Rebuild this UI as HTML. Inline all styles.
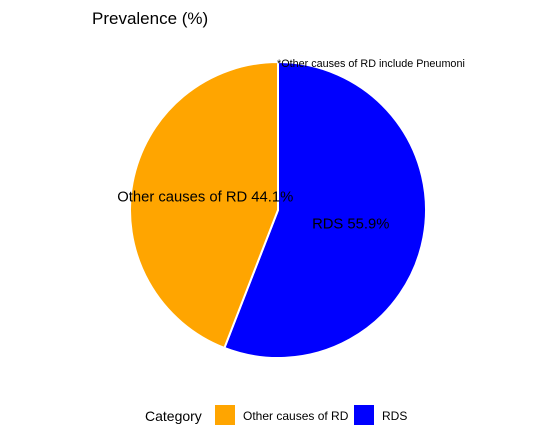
<!DOCTYPE html>
<html><head><meta charset="utf-8"><style>
body{margin:0;background:#fff;}
svg{display:block;font-family:"Liberation Sans",sans-serif;}
</style></head><body>
<svg width="554" height="427" viewBox="0 0 554 427">
<text x="92" y="24" font-size="17" fill="#000">Prevalence (%)</text>
<g id="slices"></g>
<text x="277" y="67" font-size="10.8" fill="#000">*Other causes of RD include Pneumoni</text>
<g>
<text x="145" y="421" font-size="14" fill="#000">Category</text>
<rect x="215" y="405" width="20" height="20" fill="#FFA500"/>
<text x="243" y="420" font-size="12" fill="#000">Other causes of RD</text>
<rect x="354" y="405" width="20" height="20" fill="#0000FF"/>
<text x="382" y="420" font-size="12" fill="#000">RDS</text>
</g>
</svg>
<script>
const categories = ["RDS", "Other causes of RD"];
const values = [55.9, 44.1];
const colors = ["#0000FF", "#FFA500"];
const cx = 278, cy = 210, r = 148;
const g = document.getElementById('slices');
const ns = "http://www.w3.org/2000/svg";
const total = values.reduce((a,b)=>a+b,0);
let start = 0;
function pt(f, rr){const a = f*2*Math.PI; return [cx + rr*Math.sin(a), cy - rr*Math.cos(a)];}
values.forEach((v,i)=>{
  const f0 = start/total, f1 = (start+v)/total;
  const p0 = pt(f0,r), p1 = pt(f1,r);
  const large = (f1-f0) > 0.5 ? 1 : 0;
  const path = document.createElementNS(ns,'path');
  path.setAttribute('d', `M${cx},${cy} L${p0[0]},${p0[1]} A${r},${r} 0 ${large} 1 ${p1[0]},${p1[1]} Z`);
  path.setAttribute('fill', colors[i]);
  path.setAttribute('stroke', '#fff');
  path.setAttribute('stroke-width', '2');
  
  
  g.appendChild(path);
  const lp = pt((f0+f1)/2, r*0.5);
  const t = document.createElementNS(ns,'text');
  t.setAttribute('x', lp[0]);
  t.setAttribute('y', lp[1] + 5);
  t.setAttribute('text-anchor', 'middle');
  t.setAttribute('font-size', '14.8');
  t.setAttribute('fill', '#000');
  t.textContent = categories[i] + ' ' + v.toFixed(1) + '%';
  
  
  g.appendChild(t);
  start += v;
});
</script>
</body></html>
